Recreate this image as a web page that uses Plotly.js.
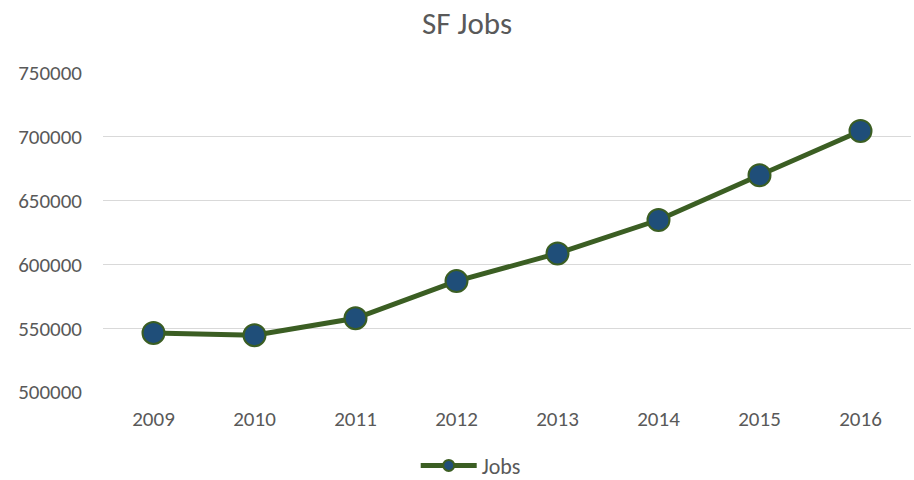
<!DOCTYPE html>
<html>
<head>
<meta charset="utf-8">
<script src="https://cdn.plot.ly/plotly-3.0.1.min.js"></script>
<style>html,body{margin:0;padding:0;background:#fff;}#chart{width:914px;height:480px;}</style>
</head>
<body>
<div id="chart"></div>
<script>
const years = ['2009','2010','2011','2012','2013','2014','2015','2016'];
const jobs = [546300, 544500, 557800, 586900, 608600, 634800, 669900, 704600];
const yTicks = [500000, 550000, 600000, 650000, 700000, 750000];
const seriesName = 'Jobs';

const lineColor = '#3b5e23';
const markerColor = '#1f4e79';
const trace = {
  x: years, y: jobs, type: 'scatter', mode: 'lines+markers', name: seriesName,
  showlegend: false,
  line: {color: lineColor, width: 5},
  marker: {color: markerColor, size: 22, line: {color: lineColor, width: 2}}
};
// legend-only entry (smaller marker, like the reference legend)
const legendEntry = {
  x: [null], y: [null], type: 'scatter', mode: 'lines+markers', name: seriesName,
  line: {color: lineColor, width: 5},
  marker: {color: markerColor, size: 11, line: {color: lineColor, width: 2}}
};
const font = "Calibri, Carlito, 'Liberation Sans', sans-serif";
const grey = '#595959';
const layout = {
  width: 914, height: 480,
  margin: {l: 103, r: 3, t: 73, b: 88, autoexpand: false},
  paper_bgcolor: '#fff', plot_bgcolor: '#fff',
  font: {family: font, color: grey, size: 21},
  title: {text: 'SF Jobs', x: 0.511, xref: 'container', xanchor: 'center', y: 0.952, yref: 'container', yanchor: 'middle', font: {size: 31, color: grey, family: font}},
  xaxis: {type: 'category', showgrid: false, zeroline: false, showline: false, ticks: '', ticklabelstandoff: 12, tickfont: {size: 21, color: grey}, range: [-0.5, 7.5]},
  yaxis: {range: [500000, 750000], tickvals: yTicks, ticktext: yTicks.map(String), showgrid: true, gridcolor: '#d9d9d9', gridwidth: 1.3, zeroline: false, showline: false, ticks: '', ticklabelstandoff: 20, tickfont: {size: 21, color: grey}},
  showlegend: true,
  legend: {orientation: 'h', x: 0.515, xref: 'container', xanchor: 'center', y: 0.03, yref: 'container', yanchor: 'middle', font: {size: 22, color: grey}, itemwidth: 56}
};
Plotly.newPlot('chart', [trace, legendEntry], layout, {displayModeBar: false, staticPlot: true});
</script>
</body>
</html>
